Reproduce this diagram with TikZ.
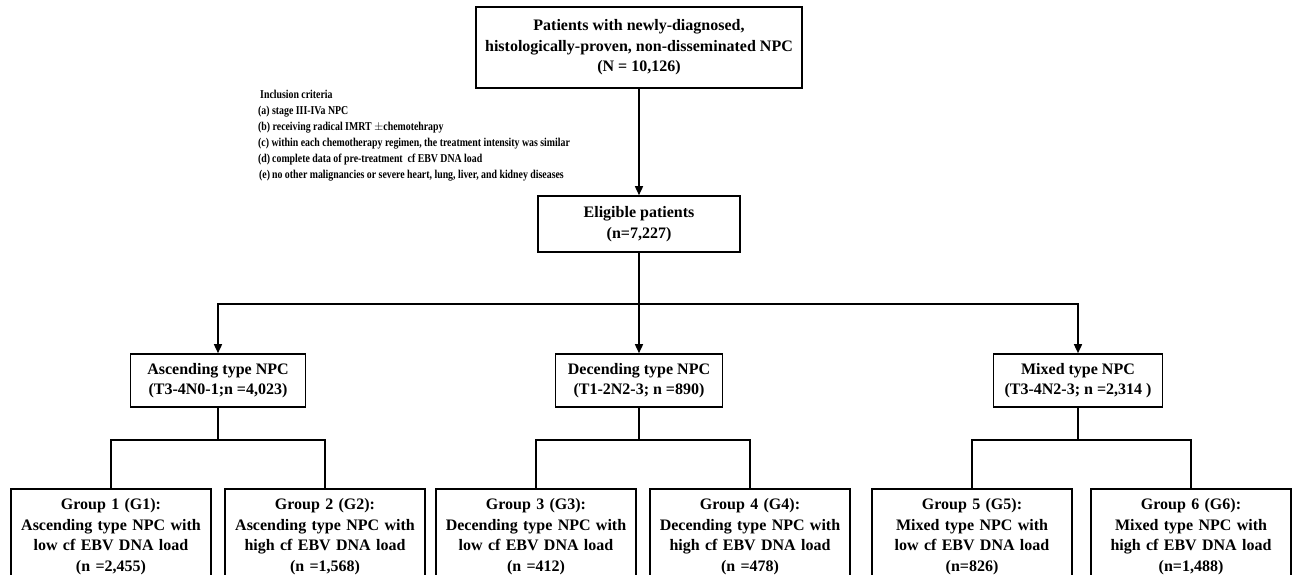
\documentclass[tikz,border=0pt]{standalone}
\usepackage{fontspec}
\setmainfont{Liberation Serif}
\newfontfamily\critfont[FakeStretch=0.82]{Liberation Serif}
\usetikzlibrary{arrows.meta}
\tikzset{
  pbox/.style={draw=black, line width=1.6pt, align=center, font=\bfseries\fontsize{16}{20.5}\selectfont, inner sep=0pt},
  gbox/.style={pbox, anchor=north, minimum width=200pt, text width=196pt, inner xsep=2pt, inner ysep=10pt},
  link/.style={black, line width=1.5pt},
  arr/.style={link, -{Triangle[length=9pt, width=8pt]}},
  crit/.style={anchor=north west, align=left, inner sep=0pt, font=\critfont\bfseries\fontsize{12}{16}\selectfont},
}
\begin{document}
\begin{tikzpicture}[x=1pt, y=-1pt]
  \path[use as bounding box, clip] (0,0) rectangle (1295,574);
  % top of the flow
  \node[pbox, minimum width=326pt, minimum height=81pt] (top) at (639,47.5)
    {Patients with newly-diagnosed,\\histologically-proven, non-disseminated NPC\\(N = 10,126)};
  \node[crit] (incl) at (258,90)
    {\hspace{2pt}Inclusion criteria\\
     (a) stage III-IVa NPC\\
     (b) receiving radical IMRT $\pm$chemotehrapy\\
     (c) within each chemotherapy regimen, the treatment intensity was similar\\
     (d)\,complete data of pre-treatment \ cf EBV DNA load\\
     \hspace{1pt}(e)\,no other malignancies or severe heart, lung, liver, and kidney diseases};
  \node[pbox, minimum width=202pt, minimum height=56pt] (elig) at (639,224)
    {Eligible patients\\(n=7,227)};
  \draw[arr] (top) -- (elig);
  % three stage types
  \coordinate (split) at (639,304);
  \node[pbox, minimum width=175pt, minimum height=53pt] (asc) at (218,380.5)
    {Ascending type NPC\\(T3-4N0-1;n =4,023)};
  \node[pbox, minimum width=167pt, minimum height=53pt] (dec) at (639,380.5)
    {Decending type NPC\\(T1-2N2-3; n =890)};
  \node[pbox, minimum width=169pt, minimum height=53pt] (mix) at (1078,380.5)
    {Mixed type NPC\\(T3-4N2-3; n =2,314 )};
  \draw[link] (elig) -- (split);
  \draw[arr] (split) -| (asc);
  \draw[arr] (split) -- (dec);
  \draw[arr] (split) -| (mix);
  % six groups by cf EBV DNA load
  \node[gbox] (g1) at (111,488) {Group 1 (G1):\\Ascending type NPC with\\low cf EBV DNA load\\(n =2,455)};
  \node[gbox] (g2) at (325,488) {Group 2 (G2):\\Ascending type NPC with\\high cf EBV DNA load\\(n =1,568)};
  \node[gbox] (g3) at (536,488) {Group 3 (G3):\\Decending type NPC with\\low cf EBV DNA load\\(n =412)};
  \node[gbox] (g4) at (750,488) {Group 4 (G4):\\Decending type NPC with\\high cf EBV DNA load\\(n =478)};
  \node[gbox] (g5) at (972,488) {Group 5 (G5):\\Mixed type NPC with\\low cf EBV DNA load\\(n=826)};
  \node[gbox] (g6) at (1191,488) {Group 6 (G6):\\Mixed type NPC with\\high cf EBV DNA load\\(n=1,488)};
  \coordinate (ascsplit) at (218,440);
  \coordinate (decsplit) at (639,440);
  \coordinate (mixsplit) at (1078,440);
  \draw[link] (asc) -- (ascsplit);
  \draw[link] (ascsplit) -| (g1);
  \draw[link] (ascsplit) -| (g2);
  \draw[link] (dec) -- (decsplit);
  \draw[link] (decsplit) -| (g3);
  \draw[link] (decsplit) -| (g4);
  \draw[link] (mix) -- (mixsplit);
  \draw[link] (mixsplit) -| (g5);
  \draw[link] (mixsplit) -| (g6);
\end{tikzpicture}
\end{document}
